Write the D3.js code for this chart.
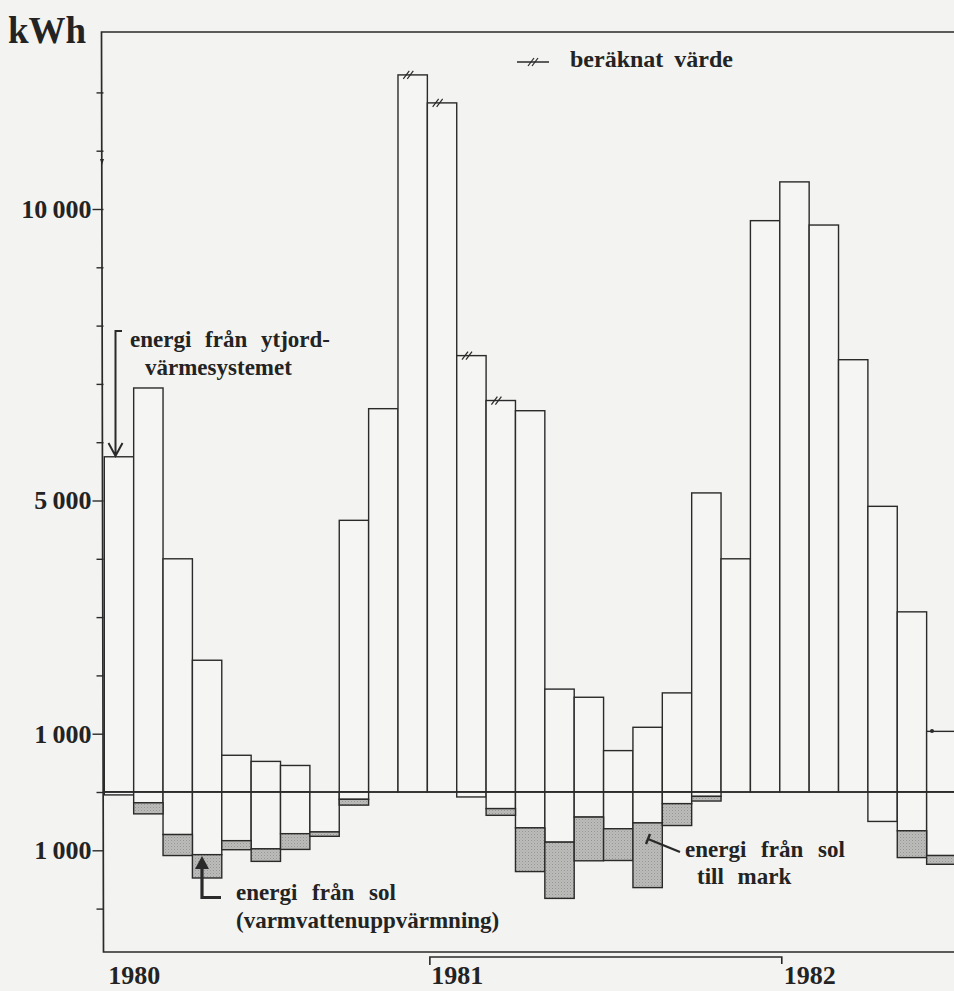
<!DOCTYPE html>
<html>
<head>
<meta charset="utf-8">
<script src="https://cdn.jsdelivr.net/npm/d3@7"></script>
<style>
    body { margin: 0; background: #f3f3f1; }
    svg text { font-family: "Liberation Serif", "Times New Roman", serif; font-weight: bold; fill: #232323; }
</style>
</head>
<body>
<div id="chart"></div>
<script>
// monthly values, kWh
const months = [
    "feb 1980", "mar 1980", "apr 1980", "maj 1980", "jun 1980", "jul 1980", "aug 1980", "sep 1980", "okt 1980", "nov 1980", "dec 1980",
    "jan 1981", "feb 1981", "mar 1981", "apr 1981", "maj 1981", "jun 1981", "jul 1981", "aug 1981", "sep 1981", "okt 1981", "nov 1981", "dec 1981",
    "jan 1982", "feb 1982", "mar 1982", "apr 1982", "maj 1982", "jun 1982"
];

// energi från ytjordvärmesystemet (above the zero line)
const ytjordValues = [
    5750, 6930, 4000, 2260, 630, 525, 455, 0, 4660, 6575, 12300,
    11820, 7485, 6715, 6540, 1765, 1625, 710, 1110, 1700, 5130, 4000, 9800,
    10465, 9725, 7415, 4900, 3090, 1040
];

// energi från sol, varmvattenuppvärmning (white part below the line)
const solVarmvattenValues = [
    50, 185, 730, 1075, 835, 975, 715, 685, 125, 0, 0,
    0, 85, 285, 615, 860, 430, 630, 530, 200, 75, 0, 0,
    0, 0, 0, 505, 665, 1090
];

// energi från sol till mark (grey part below the line)
const solMarkValues = [
    0, 190, 360, 400, 155, 215, 270, 75, 100, 0, 0,
    0, 0, 115, 750, 965, 750, 545, 1110, 375, 80, 0, 0,
    0, 0, 0, 0, 460, 150
];

// bars whose value is "beräknat värde"
const estimatedMonths = ["dec 1980", "jan 1981", "feb 1981", "mar 1981"];

const yearLabels = ["1980", "1981", "1982"];
const yearStarts = ["feb 1980", "jan 1981", "jan 1982"];

const tickValues = d3.range(-2000, 12001, 1000);
const labelledTicks = { "10000": "10\u2009000", "5000": "5\u2009000", "1000": "1\u2009000", "-1000": "1\u2009000" };

class EnergyChart {

    constructor(_parentElement) {
        this.parentElement = _parentElement;
        this.data = months.map((m, i) => ({
            month: m,
            ytjord: ytjordValues[i],
            varm: solVarmvattenValues[i],
            mark: solMarkValues[i]
        }));
        this.initVis();
    }

    initVis() {
        let vis = this;

        vis.width = 954;
        vis.height = 991;
        vis.ink = "#2a2a2a";

        vis.svg = d3.select("#" + vis.parentElement).append("svg")
            .attr("width", vis.width)
            .attr("height", vis.height);

        // stippled grey like the print
        let pat = vis.svg.append("defs").append("pattern")
            .attr("id", "stipple")
            .attr("width", 3).attr("height", 3)
            .attr("patternUnits", "userSpaceOnUse");
        pat.append("rect").attr("width", 3).attr("height", 3).attr("fill", "#bcbcba");
        pat.append("rect").attr("width", 1).attr("height", 1).attr("fill", "#959593");
        pat.append("rect").attr("x", 1.5).attr("y", 1.5).attr("width", 1).attr("height", 1).attr("fill", "#a4a4a2");

        vis.x = d3.scaleBand()
            .domain(months)
            .range([104.3, 956])
            .padding(0);

        // one linear scale, the solar parts are drawn as negative values
        vis.y = d3.scaleLinear()
            .domain([0, 10000])
            .range([792, 209]);

        vis.updateVis();
    }

    updateVis() {
        let vis = this;
        let bw = vis.x.bandwidth();
        let y0 = vis.y(0);

        // y axis ticks
        let axis = d3.axisLeft(vis.y)
            .tickValues(tickValues)
            .tickSize(7)
            .tickSizeOuter(0)
            .tickPadding(6)
            .tickFormat(d => labelledTicks[d] || "");

        let yAxis = vis.svg.append("g")
            .attr("class", "y-axis")
            .attr("transform", "translate(103.5,0)")
            .attr("font-family", null)
            .attr("font-size", null)
            .call(axis);
        yAxis.select(".domain").remove();
        yAxis.selectAll(".tick line").attr("stroke", vis.ink).attr("stroke-width", 1.4);
        yAxis.selectAll(".tick")
            .filter(d => labelledTicks[d])
            .select("line").attr("x2", -11);
        yAxis.selectAll(".tick text")
            .attr("x", -12)
            .style("font-size", "26px")
            .attr("fill", "#232323");

        // positive bars: ytjord
        vis.svg.selectAll(".bar-ytjord")
            .data(vis.data.filter(d => d.ytjord > 0))
            .enter().append("rect")
            .attr("class", "bar-ytjord")
            .attr("x", d => vis.x(d.month))
            .attr("y", d => vis.y(d.ytjord))
            .attr("width", bw)
            .attr("height", d => y0 - vis.y(d.ytjord))
            .attr("fill", "#f5f5f3")
            .attr("stroke", vis.ink)
            .attr("stroke-width", 1.4);

        // below the line: hot water part (white)
        vis.svg.selectAll(".bar-varm")
            .data(vis.data.filter(d => d.varm > 0))
            .enter().append("rect")
            .attr("class", "bar-varm")
            .attr("x", d => vis.x(d.month))
            .attr("y", y0)
            .attr("width", bw)
            .attr("height", d => vis.y(-d.varm) - y0)
            .attr("fill", "#f5f5f3")
            .attr("stroke", vis.ink)
            .attr("stroke-width", 1.4);

        // below that: sun to ground (grey)
        vis.svg.selectAll(".bar-mark")
            .data(vis.data.filter(d => d.mark > 0))
            .enter().append("rect")
            .attr("class", "bar-mark")
            .attr("x", d => vis.x(d.month))
            .attr("y", d => vis.y(-d.varm))
            .attr("width", bw)
            .attr("height", d => vis.y(-d.varm - d.mark) - vis.y(-d.varm))
            .attr("fill", "url(#stipple)")
            .attr("stroke", vis.ink)
            .attr("stroke-width", 1.4);

        // zero line
        vis.svg.append("line")
            .attr("x1", 103.5).attr("x2", vis.width)
            .attr("y1", y0).attr("y2", y0)
            .attr("stroke", vis.ink).attr("stroke-width", 1.5);

        // frame: top, left, bottom
        vis.svg.append("path")
            .attr("d", `M${vis.width},32 L101.5,32 L103.5,952 L${vis.width},952`)
            .attr("fill", "none")
            .attr("stroke", vis.ink)
            .attr("stroke-width", 1.7);

        // "//" marks on the calculated values
        vis.data.filter(d => estimatedMonths.includes(d.month)).forEach(d => {
            vis.drawSlashes(vis.x(d.month) + bw * 0.35, vis.y(d.ytjord));
        });

        // legend for the calculated values
        vis.svg.append("line")
            .attr("x1", 517).attr("x2", 549)
            .attr("y1", 62).attr("y2", 62)
            .attr("stroke", vis.ink).attr("stroke-width", 1.5);
        vis.drawSlashes(533, 62);
        vis.svg.append("text")
            .attr("x", 570).attr("y", 67)
            .style("font-size", "24px")
            .style("word-spacing", "5px")
            .text("beräknat värde");

        // unit
        vis.svg.append("text")
            .attr("x", 8).attr("y", 43)
            .style("font-size", "37px")
            .text("kWh");

        // years
        vis.svg.selectAll(".year-label")
            .data(yearLabels)
            .enter().append("text")
            .attr("class", "year-label")
            .attr("x", (d, i) => vis.x(yearStarts[i]) + 4)
            .attr("y", 984)
            .style("font-size", "26px")
            .text(d => d);

        // bracket under 1981
        let bx1 = vis.x("jan 1981") + 2.5;
        let bx2 = vis.x("jan 1982") + 2;
        vis.svg.append("path")
            .attr("d", `M${bx1},965 L${bx1},957 L${bx2},957 L${bx2},964`)
            .attr("fill", "none")
            .attr("stroke", vis.ink)
            .attr("stroke-width", 1.6);

        vis.drawAnnotations();
    }

    drawSlashes(cx, cy) {
        let vis = this;
        [-2, 2].forEach(off => {
            vis.svg.append("line")
                .attr("x1", cx + off - 3).attr("y1", cy + 4)
                .attr("x2", cx + off + 3).attr("y2", cy - 4)
                .attr("stroke", vis.ink).attr("stroke-width", 1.2);
        });
    }

    drawAnnotations() {
        let vis = this;
        let g = vis.svg.append("g").attr("class", "annotations");

        // energi från ytjordvärmesystemet
        g.append("text").attr("x", 130).attr("y", 347)
            .style("font-size", "23px").style("word-spacing", "8px")
            .text("energi från ytjord-");
        g.append("text").attr("x", 145).attr("y", 375)
            .style("font-size", "23px")
            .text("värmesystemet");
        g.append("path")
            .attr("d", "M122,331 L115.5,331 L115.5,455 M108.5,443 L115.5,456 L122.5,443")
            .attr("fill", "none").attr("stroke", vis.ink).attr("stroke-width", 2);

        // energi från sol (varmvattenuppvärmning)
        g.append("text").attr("x", 236).attr("y", 900)
            .style("font-size", "23px").style("word-spacing", "9px")
            .text("energi från sol");
        g.append("text").attr("x", 236).attr("y", 928)
            .style("font-size", "23px")
            .text("(varmvattenuppvärmning)");
        g.append("path")
            .attr("d", "M221,897.5 L202,897.5 L202,864")
            .attr("fill", "none").attr("stroke", vis.ink).attr("stroke-width", 3.2);
        g.append("path")
            .attr("d", "M195,869 L202,856 L209,869 Z")
            .attr("fill", vis.ink);

        // energi från sol till mark
        g.append("text").attr("x", 685).attr("y", 857)
            .style("font-size", "23px").style("word-spacing", "9px")
            .text("energi från sol");
        g.append("text").attr("x", 697).attr("y", 884)
            .style("font-size", "23px").style("word-spacing", "8px")
            .text("till mark");
        g.append("path")
            .attr("d", "M680,852 L648,839 M650,834 L646,844")
            .attr("fill", "none").attr("stroke", vis.ink).attr("stroke-width", 2.4);

        // small marks from the print
        g.append("circle").attr("cx", 932).attr("cy", 731).attr("r", 2).attr("fill", vis.ink);
        g.append("path").attr("d", "M100,159 L104,159 L102,165 Z").attr("fill", vis.ink);
    }
}

let energyChart = new EnergyChart("chart");
</script>
</body>
</html>
